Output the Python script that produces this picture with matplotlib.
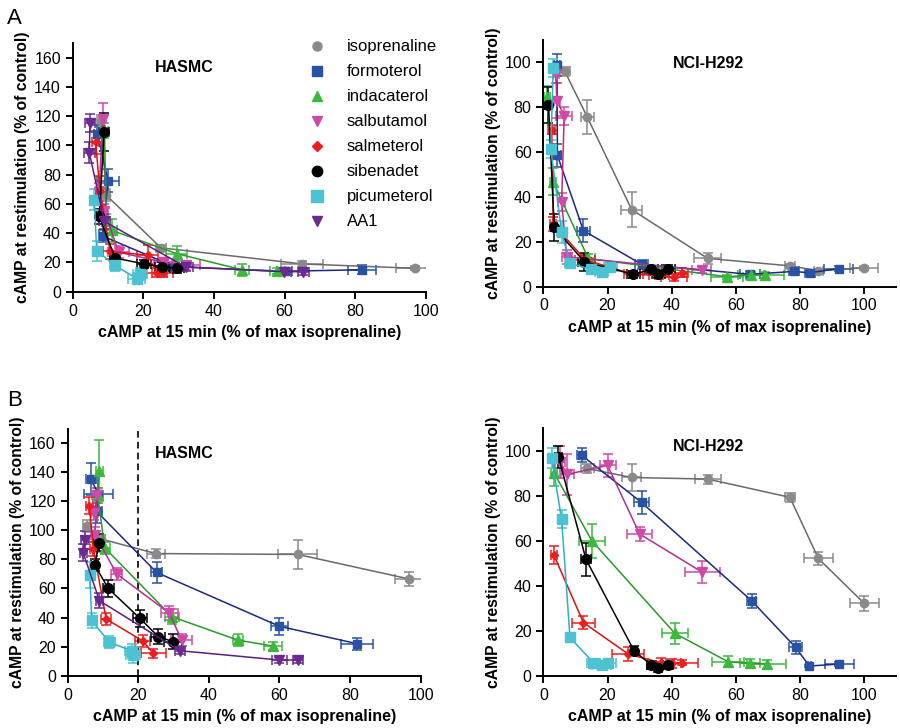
import matplotlib
matplotlib.use("Agg")
import matplotlib.pyplot as plt

plt.rcParams['font.family'] = ['Liberation Sans', 'DejaVu Sans']

# drug names and styles (legend order)
drugs = ['isoprenaline', 'formoterol', 'indacaterol', 'salbutamol',
         'salmeterol', 'sibenadet', 'picumeterol', 'AA1']
markers = ['o', 's', '^', 'v', 'D', 'o', 's', 'v']
mcolors = ['#8a8a8a', '#2a52a4', '#3cb83c', '#d048a8',
           '#ee1c1c', '#000000', '#4cc2d2', '#6a2a90']
lcolors = ['#6a6a6a', '#1a2a82', '#2a9a2a', '#b03090',
           '#dd1111', '#000000', '#30b0c8', '#5a2080']
msizes = [6, 6, 6.5, 6.5, 4.5, 7, 7.5, 7]

# each entry: x, y, xerr, yerr  (cAMP 15 min %, restimulation %)
a_hasmc = {
    'isoprenaline': ([8, 9.5, 25, 65, 97], [117, 66, 30, 19, 16],
                     [1, 1, 1.5, 6, 5.5], [4, 4, 2, 2, 1.5]),
    'formoterol': ([7, 10, 8.5, 29, 60, 82], [108, 76, 38, 17, 14, 15],
                   [1, 3, 1, 2, 2, 4], [6, 8, 4, 2, 2, 3]),
    'indacaterol': ([9, 9.5, 11, 29.5, 48, 58], [110, 48, 42, 26, 15, 14],
                    [1, 1, 1.5, 3, 2, 2], [5, 5, 8, 5, 4, 2]),
    'salbutamol': ([8.5, 7.5, 9, 13, 26, 32], [118, 68, 55, 27, 20, 18],
                   [1, 1, 1, 3, 3, 4], [11, 6, 5, 4, 3, 3]),
    'salmeterol': ([6.5, 7.7, 10.6, 21.2, 23.8, 25.5], [102, 69, 27.5, 25, 13, 13],
                   [1, 1, 2, 3, 3, 3], [8, 10, 5, 7, 3, 3]),
    'sibenadet': ([8.9, 7.5, 12, 20.3, 25.4, 29.5], [109, 51.5, 23, 19, 17, 16],
                  [1.5, 1, 1.5, 2, 2, 2], [13, 5, 3, 3, 3, 3]),
    'picumeterol': ([6.1, 6.8, 12, 18.1, 19], [63, 28, 18, 9, 12],
                    [1, 1, 1.5, 2.5, 2], [7, 7, 4, 4, 4]),
    'AA1': ([4.9, 4.7, 9, 32, 59.8, 65.3], [115.5, 95, 48, 17, 13.7, 13.7],
            [1.5, 1.5, 1.5, 2, 2, 1.5], [6, 7, 5, 3, 2, 2]),
}

a_nci = {
    'isoprenaline': ([6.7, 13.7, 27.5, 51.2, 76.8, 85.7, 100], [96, 75.6, 34.4, 12.6, 9.3, 7.1, 8.4],
                     [1.5, 2, 3.3, 4.2, 1.5, 1.5, 4.4], [2, 7.5, 8, 2.5, 1, 1, 1]),
    'formoterol': ([4.2, 4.4, 12.5, 30.6, 64.4, 78, 83, 92], [98.8, 58.5, 25, 10, 5.5, 6.8, 6.2, 8.1],
                   [1, 1, 2, 2, 3, 1.5, 1.5, 4.5], [5, 5, 5, 2, 1, 1, 1, 1]),
    'indacaterol': ([1.2, 3.1, 14, 57.3, 64.6, 69], [84.4, 46.7, 12.6, 4.4, 5.2, 5.2],
                    [1, 1, 2, 5, 4, 6], [5, 6, 2, 1, 1.5, 1.5]),
    'salbutamol': ([3.9, 4.2, 6.5, 5.7, 7.3, 49.3], [95, 83, 76.3, 37.8, 13.3, 7.4],
                   [1, 1, 2.5, 1, 1.5, 3], [4, 8, 4, 4, 3, 1.5]),
    'salmeterol': ([2.6, 3.1, 13, 28, 36, 40.7, 43.1], [70, 28, 12, 5.5, 5, 4.1, 6.2],
                   [1, 1, 3, 3, 3, 4, 2], [2, 3, 2, 1.5, 1.5, 1.5, 2]),
    'sibenadet': ([1.6, 3.4, 12.8, 28, 33.7, 35.8, 38.9], [81.2, 26.4, 11.1, 5.5, 7.7, 5.5, 8.1],
                  [1, 1, 2, 2, 2, 2, 2], [8, 6, 4, 1.5, 1.5, 1.5, 1.5]),
    'picumeterol': ([3.1, 2.3, 5.7, 8.3, 15, 18.2, 20.8], [97.5, 61.5, 24.4, 10.4, 7.7, 6.7, 8.9],
                    [1, 1, 1.5, 1.5, 1.5, 2, 2], [4, 4, 5, 2, 2, 2, 2]),
}

b_hasmc = {
    'isoprenaline': ([5.4, 9.5, 25, 65.2, 96.8], [103, 94, 84, 83.4, 66.5],
                     [1, 1, 2.5, 5.5, 4], [4, 3, 3, 10, 5]),
    'formoterol': ([6.6, 8.7, 8.2, 25.2, 60, 82], [135, 125, 113, 71, 34, 22],
                   [1.5, 4, 1.5, 1.5, 2.5, 4.5], [11, 12, 8, 7, 6, 4]),
    'indacaterol': ([9, 8.5, 10.5, 29.5, 48.2, 58.1], [141, 124, 88, 40.6, 24.5, 20.4],
                    [1, 1, 1.5, 2, 1.5, 2.5], [21, 5, 4, 5, 4, 3]),
    'salbutamol': ([7.5, 8.4, 7.7, 13.9, 28.8, 32.3], [112, 124, 97, 70, 43, 24.5],
                   [1, 1.5, 1, 1.5, 2.5, 3], [5, 5, 5, 4, 5, 4]),
    'salmeterol': ([6.1, 7.3, 10.9, 21.2, 24.3], [117, 87, 39, 24, 15.5],
                   [1, 1, 1.5, 2, 3.5], [6, 5, 4, 4, 3]),
    'sibenadet': ([8.9, 7.7, 11.5, 20.5, 25.7, 29.9], [91.5, 76, 60, 39.4, 26.8, 23.4],
                  [1.5, 1, 1.5, 2, 2, 2.5], [6, 4, 6, 6, 5, 5]),
    'picumeterol': ([6.3, 6.8, 11.8, 18.3, 18.5], [69, 38, 23, 17, 14],
                    [1, 1, 1.5, 2, 2], [9, 5, 4, 5, 5]),
    'AA1': ([4.9, 4.4, 9, 31.8, 60, 65.3], [93.3, 84.6, 51.6, 17.2, 10.8, 10.8],
            [1, 1, 1, 1.5, 2, 1.5], [6, 6, 5, 2, 2, 2]),
}

b_nci = {
    'isoprenaline': ([13.7, 27.5, 51.2, 76.8, 85.7, 100], [92.1, 88.1, 87.4, 79.3, 52.1, 32.1],
                     [2, 3, 4, 1.5, 4.5, 4.5], [2, 6, 2, 2, 3, 3.5]),
    'formoterol': ([11.9, 30.6, 64.9, 78.6, 82.9, 92.2], [98, 77, 33.3, 12.6, 4.3, 5.2],
                   [1.5, 2.2, 1.5, 2, 0.5, 4.5], [3, 5, 3, 3, 0.5, 1]),
    'indacaterol': ([3.3, 15.1, 41, 57.6, 64.4, 69.6], [90.2, 60, 18.8, 6.2, 5.5, 5.2],
                    [1, 4, 4, 5, 3, 6], [6, 7.5, 4.5, 2.5, 2, 2]),
    'salbutamol': ([5.2, 7.5, 20, 30, 49.5], [95, 89.5, 93.5, 63, 46],
                   [1.5, 2, 2.5, 4, 5.5], [7, 9, 5, 3, 5]),
    'salmeterol': ([3.3, 12.5, 26.5, 36.6, 40, 43.1], [53.6, 23.6, 9.6, 5.8, 5.5, 5.8],
                   [1, 3.5, 5, 4, 3, 5], [4, 3, 3, 2, 2, 1]),
    'sibenadet': ([4.7, 13.3, 28.3, 33.7, 35.8, 38.9], [97.3, 51.7, 11, 4.7, 3.3, 4.7],
                  [1, 1.5, 1, 1.5, 1, 1.5], [5, 7.5, 2, 1.5, 1.5, 1.5]),
    'picumeterol': ([2.6, 5.7, 8.3, 15.6, 18.2, 20.2], [96.6, 69.6, 17, 5.8, 4.8, 5.5],
                    [1, 1, 0.5, 2, 3, 2.5], [4.5, 4, 1, 1.5, 1.5, 1.5]),
}

xlabel = 'cAMP at 15 min (% of max isoprenaline)'
ylabel = 'cAMP at restimulation (% of control)'

fig = plt.figure(figsize=(9, 7.28), dpi=100)

ax1 = fig.add_axes([0.0808, 0.5993, 0.3922, 0.3416])
ax2 = fig.add_axes([0.6037, 0.6062, 0.3923, 0.3389])
ax3 = fig.add_axes([0.0752, 0.0718, 0.3922, 0.3396])
ax4 = fig.add_axes([0.6037, 0.0718, 0.3923, 0.3400])


def draw(ax, data, xmax, ymax, yticks, title, tx, ty):
    for i, name in enumerate(drugs):
        if name not in data:
            continue
        x, y, xe, ye = data[name]
        ax.errorbar(x, y, xerr=xe, yerr=ye, fmt='-', marker=markers[i],
                    color=lcolors[i], mfc=mcolors[i], mec=mcolors[i],
                    ms=msizes[i], lw=1.1, elinewidth=1.1, ecolor=mcolors[i],
                    capsize=3.5, capthick=1.1, label=name)
    ax.set_xlim(0, xmax)
    ax.set_ylim(0, ymax)
    ax.set_xticks([0, 20, 40, 60, 80, 100])
    ax.set_yticks(yticks)
    for s in ['top', 'right']:
        ax.spines[s].set_visible(False)
    for s in ['left', 'bottom']:
        ax.spines[s].set_linewidth(1.4)
    ax.tick_params(direction='out', length=5, width=1.4, labelsize=11.5)
    ax.set_xlabel(xlabel, fontsize=11.5, fontweight='bold', labelpad=5)
    ax.set_ylabel(ylabel, fontsize=11.3, fontweight='bold', labelpad=3)
    ax.text(tx, ty, title, fontsize=11.5, fontweight='bold', ha='center', va='center')


draw(ax1, a_hasmc, 100, 170, range(0, 161, 20), 'HASMC', 31.5, 153)
draw(ax2, a_nci, 110, 110, range(0, 101, 20), 'NCI-H292', 51.6, 99.6)
draw(ax3, b_hasmc, 100, 170, range(0, 161, 20), 'HASMC', 33, 153)
draw(ax4, b_nci, 110, 110, range(0, 101, 20), 'NCI-H292', 51.6, 102)

ax3.axvline(20, color='black', lw=1.2, ls=(0, (4, 2.5)))

# legend: markers only
handles = []
for i, name in enumerate(drugs):
    h, = ax1.plot([], [], ls='none', marker=markers[i], color=mcolors[i],
                  ms=msizes[i] + 0.5, label=name)
    handles.append(h)
ax1.legend(handles=handles, loc='upper left', bbox_to_anchor=(0.62, 1.075),
           frameon=False, fontsize=12, labelspacing=0.6, handletextpad=1.2,
           handlelength=1.2)

fig.text(0.008, 0.975, 'A', fontsize=16, va='center')
fig.text(0.008, 0.45, 'B', fontsize=16, va='center')

fig.savefig('out.png', dpi=100)
